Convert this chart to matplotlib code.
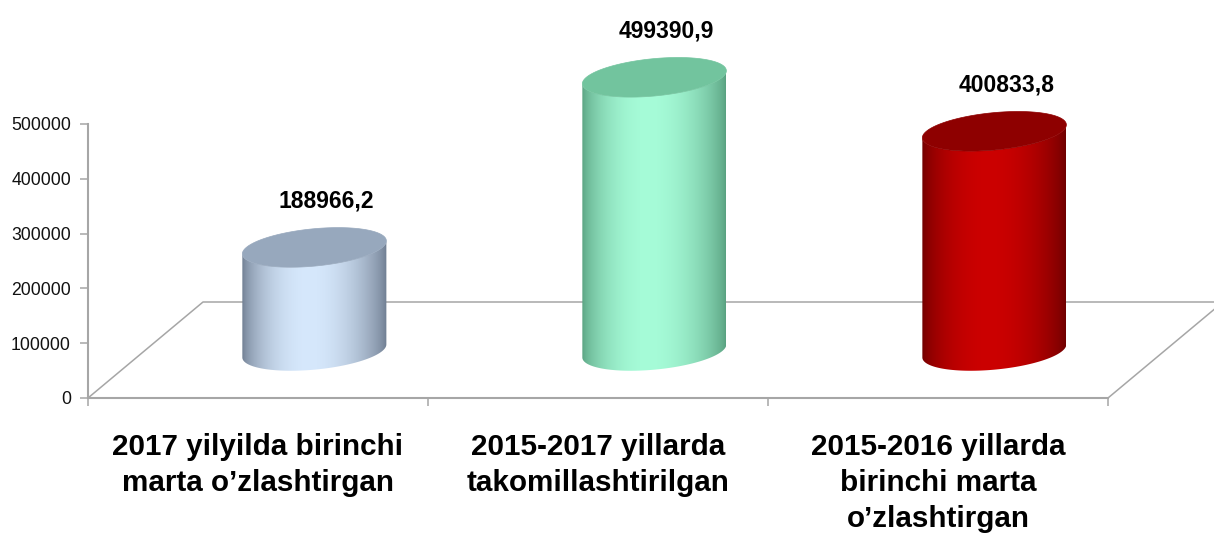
import numpy as np
import matplotlib
matplotlib.use("Agg")
import matplotlib.pyplot as plt
from matplotlib.patches import Polygon
from matplotlib.colors import to_rgb

# ---------------- data ----------------
categories = ["2017 yilyilda birinchi\nmarta o’zlashtirgan",
              "2015-2017 yillarda\ntakomillashtirilgan",
              "2015-2016 yillarda\nbirinchi marta\no’zlashtirgan"]
values = [188966.2, 499390.9, 400833.8]
value_labels = ["188966,2", "499390,9", "400833,8"]
yticks = [0, 100000, 200000, 300000, 400000, 500000]
ytick_labels = ["0", "100000", "200000", "300000", "400000", "500000"]
side_edge = ["#6c7a8e", "#58a07f", "#6e0000"]
side_light = ["#d6e8fc", "#a6fcd8", "#cc0000"]
top_colors = ["#97a8bd", "#72c49e", "#8e0000"]

plt.rcParams["font.family"] = ["Liberation Sans", "DejaVu Sans"]

# ---------------- layout ----------------
W, H = 1214, 534
fig = plt.figure(figsize=(W / 100, H / 100), dpi=100)
x0_px, y0_px, ytop_px, cat_px = 88, 398, 124, 340
ax = fig.add_axes([x0_px / W, 0, 1 - x0_px / W, 1])
upp = 500000 / (y0_px - ytop_px)          # value units per pixel
ylim = (-(H - y0_px) * upp, y0_px * upp)
xlim = (-0.5, -0.5 + (W - x0_px) / cat_px)

grey = "#a6a6a6"
ddx = 115 / cat_px          # depth offset (x, category units)
ddy = 96 * upp              # depth offset (y, value units)
bar_frac = 0.49
a = 72 / cat_px             # cylinder radius (x)
b = 18.7 * upp              # ellipse minor semi-axis (y)
s = 6.5 * upp               # ellipse tilt

# floor outline
n = len(categories)
ax.plot([-0.5, -0.5 + ddx, n - 0.5 + ddx], [0, ddy, ddy], color=grey, lw=1.1, zorder=1)
ax.plot([n - 0.5, n - 0.5 + ddx], [0, ddy], color=grey, lw=1.1, zorder=1)

# cylinders
t_bot = np.linspace(np.pi, 2 * np.pi, 120)
t_top = np.linspace(2 * np.pi, np.pi, 120)
t_all = np.linspace(0, 2 * np.pi, 240)
u = np.linspace(0, 1, 300)
prof = np.sin(np.pi * u ** 0.9) ** 0.7

for i, v in enumerate(values):
    cx = i + bar_frac * ddx
    base = bar_frac * ddy
    top = base + v
    xs = np.concatenate([cx + a * np.cos(t_bot), cx + a * np.cos(t_top)])
    ys = np.concatenate([base + b * np.sin(t_bot) + s * np.cos(t_bot),
                         top + b * np.sin(t_top) + s * np.cos(t_top)])
    clip = Polygon(np.column_stack([xs, ys]), closed=True, transform=ax.transData,
                   facecolor="none", edgecolor="none")
    ax.add_patch(clip)
    e = np.array(to_rgb(side_edge[i]))
    l = np.array(to_rgb(side_light[i]))
    grad = e[None, :] + (l - e)[None, :] * prof[:, None]
    im = ax.imshow(grad[None, :, :], extent=[cx - a, cx + a, base - b - s - 1, top + b + s + 1],
                   aspect="auto", interpolation="bilinear", zorder=3, origin="lower")
    im.set_clip_path(clip)
    ax.add_patch(Polygon(np.column_stack([cx + a * np.cos(t_all),
                                          top + b * np.sin(t_all) + s * np.cos(t_all)]),
                         closed=True, facecolor=top_colors[i], edgecolor=top_colors[i],
                         lw=0.5, zorder=4))
    ax.text(cx + 12 / cat_px, top + 46 * upp, value_labels[i], ha="center", va="center",
            fontsize=16.5, fontweight="bold", color="black", zorder=5)

ax.set_xlim(*xlim)
ax.set_ylim(*ylim)
ax.set_aspect("auto")

# axes styling
for sp in ["top", "right"]:
    ax.spines[sp].set_visible(False)
ax.spines["bottom"].set_position(("data", 0))
ax.spines["bottom"].set_bounds(-0.5, n - 0.5)
ax.spines["left"].set_bounds(0, 500000)
for sp in ["bottom", "left"]:
    ax.spines[sp].set_color(grey)
    ax.spines[sp].set_linewidth(1.5)
ax.spines["bottom"].set_zorder(2)

ax.set_yticks(yticks)
ax.set_yticklabels(ytick_labels)
ax.tick_params(axis="y", length=5.8, width=1.1, color=grey, pad=6.5,
               labelsize=12.7, labelcolor="#111111")
ax.set_xticks(range(n))
ax.set_xticklabels(categories, fontsize=21.3, fontweight="bold")
for lbl in ax.get_xticklabels():
    lbl.set_linespacing(1.36)
ax.set_xticks([k - 0.5 for k in range(n + 1)], minor=True)
ax.tick_params(axis="x", which="major", length=0, pad=25)
ax.tick_params(axis="x", which="minor", length=5.8, width=1.1, color=grey)
ax.patch.set_visible(False)

fig.savefig("out.png", dpi=100)
